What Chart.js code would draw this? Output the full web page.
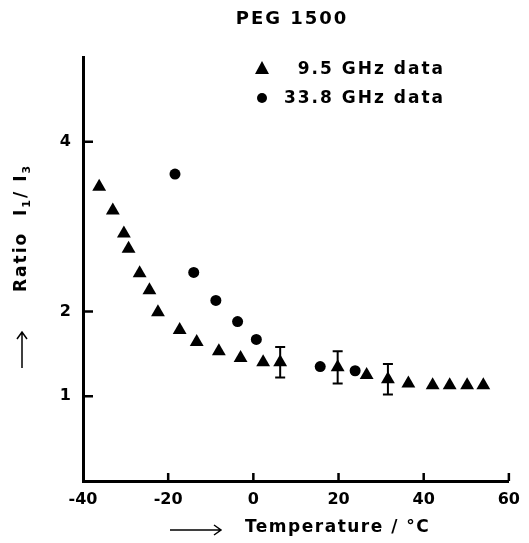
<!DOCTYPE html>
<html>
<head>
<meta charset="utf-8">
<script src="https://cdn.jsdelivr.net/npm/chart.js@4"></script>
<style>
  html, body { margin: 0; padding: 0; background: #fff; }
  #wrap { width: 529px; height: 543px; }
</style>
</head>
<body>
<div id="wrap"><canvas id="c" width="529" height="543"></canvas></div>
<script>
// --- data ---
const temps95 = [-36.2, -33.0, -30.4, -29.3, -26.7, -24.4, -22.4, -17.3, -13.3, -8.1, -3.0, 2.3, 6.3, 19.8, 26.6, 31.6, 36.4, 42.1, 46.1, 50.2, 54.0];
const ratio95 = [3.47, 3.19, 2.92, 2.74, 2.45, 2.25, 1.99, 1.78, 1.64, 1.53, 1.45, 1.40, 1.40, 1.34, 1.25, 1.20, 1.15, 1.13, 1.13, 1.13, 1.13];
const err95 = [null, null, null, null, null, null, null, null, null, null, null, null, 0.18, 0.19, null, 0.18, null, null, null, null, null];

const temps338 = [-18.4, -14.0, -8.8, -3.7, 0.7, 15.7, 23.9];
const ratio338 = [3.62, 2.46, 2.13, 1.88, 1.67, 1.35, 1.30];

const xTicks = [-40, -20, 0, 20, 40, 60];
const yTicks = [1, 2, 4];

const FONT = '"DejaVu Sans", sans-serif';

const toPoints = (xs, ys) => xs.map((x, i) => ({ x: x, y: ys[i] }));

// error bars, inner tick marks, titles and legend
const extras = {
    id: 'extras',
    afterDatasetsDraw(chart) {
        const ctx = chart.ctx;
        const xs = chart.scales.x, ys = chart.scales.y;
        ctx.save();
        ctx.strokeStyle = '#000';
        ctx.lineWidth = 2;
        err95.forEach((e, i) => {
            if (e == null) return;
            const px = xs.getPixelForValue(temps95[i]);
            const top = ys.getPixelForValue(ratio95[i] + e);
            const bot = ys.getPixelForValue(ratio95[i] - e);
            ctx.beginPath();
            ctx.moveTo(px, top); ctx.lineTo(px, bot);
            ctx.moveTo(px - 5, top); ctx.lineTo(px + 5, top);
            ctx.moveTo(px - 5, bot); ctx.lineTo(px + 5, bot);
            ctx.stroke();
        });
        ctx.restore();
    },
    afterDraw(chart) {
        const ctx = chart.ctx;
        const xs = chart.scales.x, ys = chart.scales.y;
        const area = chart.chartArea;
        ctx.save();
        ctx.strokeStyle = '#000';
        ctx.fillStyle = '#000';
        ctx.lineWidth = 2.5;

        // inner ticks
        ctx.beginPath();
        xTicks.slice(1).forEach(t => {
            const px = xs.getPixelForValue(t);
            ctx.moveTo(px, area.bottom); ctx.lineTo(px, area.bottom - 8);
        });
        yTicks.forEach(t => {
            const py = ys.getPixelForValue(t);
            ctx.moveTo(area.left, py); ctx.lineTo(area.left + 10, py);
        });
        ctx.stroke();

        ctx.textBaseline = 'middle';
        ctx.letterSpacing = '2px';

        // title
        ctx.font = 'bold 18px ' + FONT;
        ctx.textAlign = 'center';
        ctx.fillText('PEG 1500', 292, 19);

        // legend
        ctx.textAlign = 'right';
        ctx.font = 'bold 17px ' + FONT;
        ctx.fillText('9.5 GHz data', 445, 70);
        ctx.fillText('33.8 GHz data', 445, 99);
        ctx.beginPath();
        ctx.moveTo(262, 61); ctx.lineTo(269, 74); ctx.lineTo(255, 74); ctx.closePath();
        ctx.fill();
        ctx.beginPath();
        ctx.arc(262, 98, 5, 0, Math.PI * 2);
        ctx.fill();

        // x title with arrow
        ctx.lineWidth = 1.5;
        ctx.beginPath();
        ctx.moveTo(170, 530); ctx.lineTo(221, 530);
        ctx.moveTo(214, 525); ctx.lineTo(221, 530); ctx.lineTo(214, 535);
        ctx.stroke();
        ctx.textAlign = 'left';
        ctx.font = 'bold 17px ' + FONT;
        ctx.letterSpacing = '1.5px';
        ctx.fillText('Temperature / \u00b0C', 245, 528);

        // y title, rotated
        ctx.translate(22, 0);
        ctx.rotate(-Math.PI / 2);
        ctx.beginPath();
        ctx.moveTo(-368, 0); ctx.lineTo(-332, 0);
        ctx.moveTo(-339, -5); ctx.lineTo(-332, 0); ctx.lineTo(-339, 5);
        ctx.stroke();
        ctx.letterSpacing = '2px';
        let cx = -292;
        const part = (txt, size, dy) => {
            ctx.font = 'bold ' + size + 'px ' + FONT;
            ctx.fillText(txt, cx, dy);
            cx += ctx.measureText(txt).width;
        };
        part('Ratio  I', 17, 0);
        part('1', 11, 5);
        part('/ I', 17, 0);
        part('3', 11, 5);
        ctx.restore();
    }
};

new Chart(document.getElementById('c'), {
    type: 'scatter',
    data: {
        datasets: [
            {
                label: '9.5 GHz data',
                data: toPoints(temps95, ratio95),
                pointStyle: 'triangle',
                pointRadius: 8,
                backgroundColor: '#000',
                borderColor: '#000',
                borderWidth: 0
            },
            {
                label: '33.8 GHz data',
                data: toPoints(temps338, ratio338),
                pointStyle: 'circle',
                pointRadius: 5.5,
                backgroundColor: '#000',
                borderColor: '#000',
                borderWidth: 0
            }
        ]
    },
    options: {
        responsive: false,
        animation: false,
        events: [],
        layout: { padding: { left: 0, top: 57, right: 15, bottom: 32 } },
        plugins: {
            legend: { display: false },
            tooltip: { enabled: false }
        },
        scales: {
            x: {
                type: 'linear',
                min: -40,
                max: 60,
                afterFit: s => { s.height = 30; },
                afterBuildTicks: s => { s.ticks = xTicks.map(v => ({ value: v })); },
                grid: { display: true, drawOnChartArea: false, drawTicks: false, color: 'rgba(0,0,0,0)' },
                border: { display: true, color: '#000', width: 3 },
                ticks: { color: '#000', padding: 9, maxRotation: 0, font: { family: FONT, size: 16, weight: 'bold' } }
            },
            y: {
                type: 'linear',
                min: 0,
                max: 5,
                afterFit: s => { s.width = 83; },
                afterBuildTicks: s => { s.ticks = yTicks.map(v => ({ value: v })); },
                grid: { display: true, drawOnChartArea: false, drawTicks: false, color: 'rgba(0,0,0,0)' },
                border: { display: true, color: '#000', width: 3 },
                ticks: { color: '#000', padding: 12, font: { family: FONT, size: 16, weight: 'bold' } }
            }
        }
    },
    plugins: [extras]
});
</script>
</body>
</html>
